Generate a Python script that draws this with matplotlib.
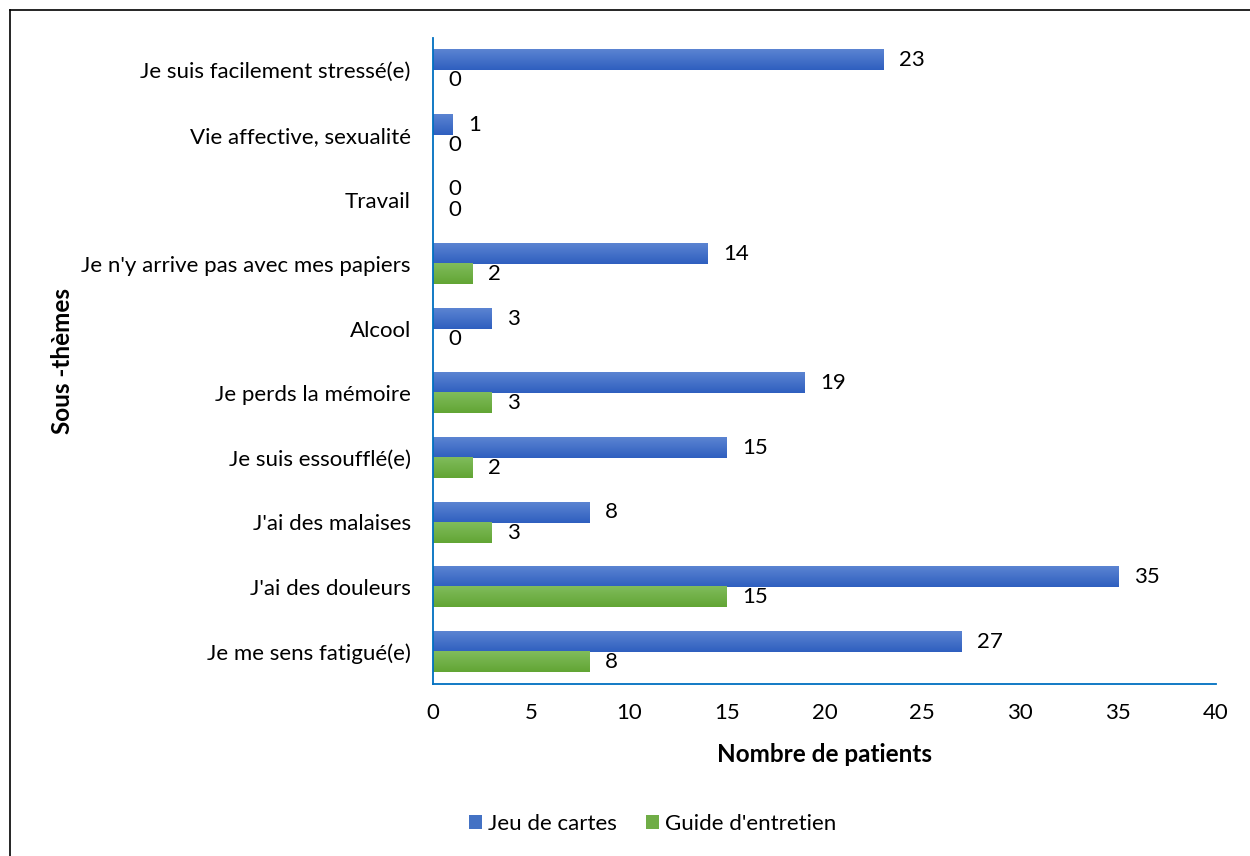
import matplotlib.pyplot as plt
import numpy as np
from matplotlib.lines import Line2D
from matplotlib.colors import LinearSegmentedColormap

plt.rcParams['font.family'] = ['Lato', 'DejaVu Sans']

categories = ["Je me sens fatigué(e)", "J'ai des douleurs", "J'ai des malaises",
              "Je suis essoufflé(e)", "Je perds la mémoire", "Alcool",
              "Je n'y arrive pas avec mes papiers", "Travail",
              "Vie affective, sexualité", "Je suis facilement stressé(e)"]
jeu = [27, 35, 8, 15, 19, 3, 14, 0, 1, 23]
guide = [8, 15, 3, 2, 3, 0, 2, 0, 0, 0]
xticks = [0, 5, 10, 15, 20, 25, 30, 35, 40]

blue = "#4472C4"
green = "#70AD47"
axis_col = "#0070C0"
blue_grad = LinearSegmentedColormap.from_list("b", ["#2F5FBF", "#5B84D2"])
green_grad = LinearSegmentedColormap.from_list("g", ["#62A534", "#80BC5C"])

fig = plt.figure(figsize=(12.5, 8.56), dpi=100)
# outer frame (only left and top edges show)
fig.add_artist(Line2D([10/1250, 10/1250], [0, 1 - 10/856], transform=fig.transFigure,
                      color="black", linewidth=1.2))
fig.add_artist(Line2D([10/1250, 1], [1 - 10/856, 1 - 10/856], transform=fig.transFigure,
                      color="black", linewidth=1.2))

ax = fig.add_axes([433/1250, 1 - 684/856, (1216 - 433)/1250, (684 - 38)/856])
y = np.arange(len(categories))
h = 0.31
bars1 = ax.barh(y + h/2, jeu, height=h, color=blue, label="Jeu de cartes")
bars2 = ax.barh(y - h/2, guide, height=h, color=green, label="Guide d'entretien")

# light vertical gradient on bars
grad = np.linspace(0, 1, 50).reshape(-1, 1)
for bars, cm in [(bars1, blue_grad), (bars2, green_grad)]:
    for b in bars:
        if b.get_width() > 0:
            x0, y0 = b.get_x(), b.get_y()
            ax.imshow(grad, cmap=cm, aspect="auto", origin="lower",
                      extent=[x0, x0 + b.get_width(), y0, y0 + b.get_height()], zorder=2)

for i in range(len(categories)):
    ax.text(jeu[i] + 0.8, y[i] + h/2, str(jeu[i]), va="center", ha="left", fontsize=16)
    ax.text(guide[i] + 0.8, y[i] - h/2, str(guide[i]), va="center", ha="left", fontsize=16)

ax.set_xlim(0, 40)
ax.set_ylim(-0.5, len(categories) - 0.5)
ax.set_xticks(xticks)
ax.set_yticks(y)
ax.set_yticklabels(categories, fontsize=16)
ax.tick_params(axis="x", labelsize=16, length=0, pad=14)
ax.tick_params(axis="y", length=0, pad=16)
for s in ["top", "right"]:
    ax.spines[s].set_visible(False)
ax.spines["left"].set_color(axis_col)
ax.spines["bottom"].set_color(axis_col)
ax.spines["left"].set_linewidth(1.3)
ax.spines["bottom"].set_linewidth(1.3)
ax.spines["left"].set_zorder(3)

ax.set_xlabel("Nombre de patients", fontsize=17.5, fontweight="bold", labelpad=14)
fig.text(62/1250, 1 - 361/856, "Sous -thèmes", rotation=90, fontsize=17.5, fontweight="bold",
         ha="center", va="center")

fig.legend(loc="center", bbox_to_anchor=(0.522, 1 - 824/856), ncol=2, frameon=False,
           fontsize=16, handlelength=0.6, handleheight=0.6, handletextpad=0.25, columnspacing=1.3)

fig.savefig("out.png", dpi=100)
